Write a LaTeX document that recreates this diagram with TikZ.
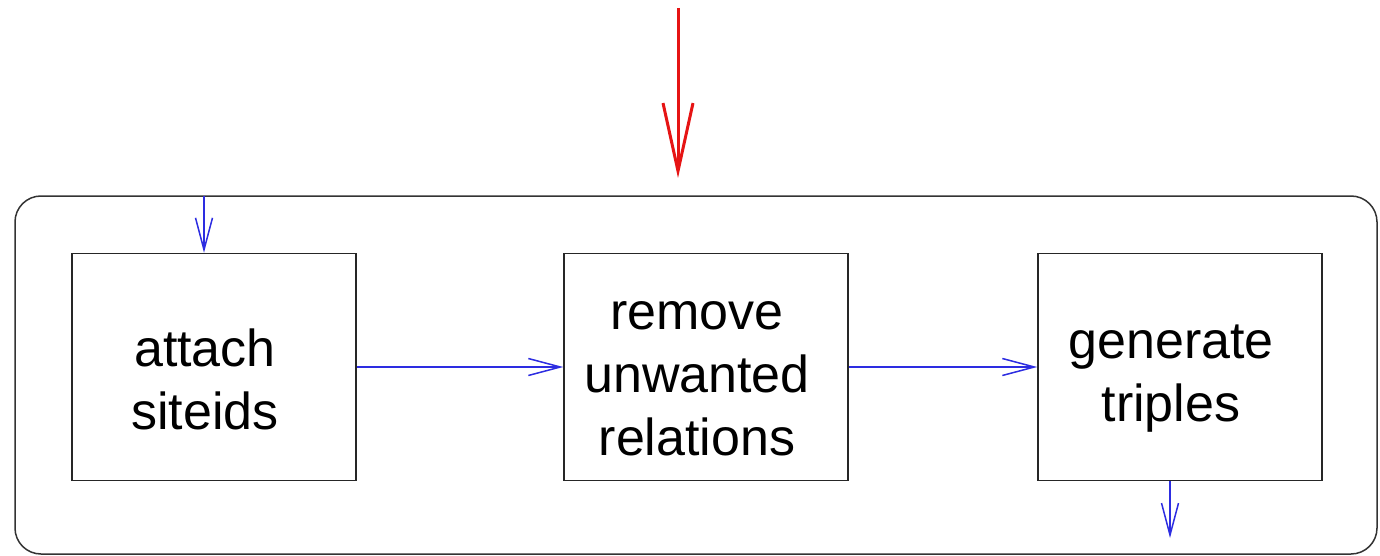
\documentclass[tikz,border=0pt]{standalone}
\usepackage{fontspec}
\setmainfont{Liberation Sans}
\usetikzlibrary{arrows.meta}
\definecolor{flowblue}{RGB}{45,45,225}
\definecolor{inred}{RGB}{230,20,20}
\begin{document}
\begin{tikzpicture}[x=1pt,y=-1pt,
  stage/.style={draw=black!85,line width=1.5pt,minimum width=284pt,minimum height=227pt,
    inner sep=0pt},
  caption/.style={align=center,inner sep=0pt,xshift=-9pt,yshift=-12pt,
    font=\fontsize{52}{63}\selectfont},
  flow/.style={draw=flowblue,line width=1.5pt,
    -{Straight Barb[length=32pt,width=17pt,line width=1.5pt]}},
  input/.style={draw=inred,line width=3pt,
    -{Straight Barb[length=68pt,width=30pt,line width=3pt]}}]
  \useasboundingbox (0,0) rectangle (1380,556);
  % outer frame
  \node[draw=black!80,line width=1.5pt,rounded corners=26pt,minimum width=1362pt,
    minimum height=358pt,inner sep=0pt] (frame) at (696,375) {};
  % processing stages
  \node[stage,label={[caption]center:attach\\siteids}] (attach) at (214,367) {};
  \node[stage,label={[caption]center:remove\\unwanted\\relations}] (remove) at (706,367) {};
  \node[stage,label={[caption]center:generate\\triples}] (generate) at (1180,367) {};
  % incoming data
  \coordinate (src) at (678,8);
  \coordinate (dst) at (678,178);
  \draw[input] (src) -- (dst);
  \coordinate (entry) at (204,196);
  \draw[flow] (entry) -- (attach.north -| entry);
  \draw[flow] (attach.east) -- (remove.west);
  \draw[flow] (remove.east) -- (generate.west);
  \coordinate (exit) at (1170,538);
  \draw[flow] (generate.south -| exit) -- (exit);
\end{tikzpicture}
\end{document}
